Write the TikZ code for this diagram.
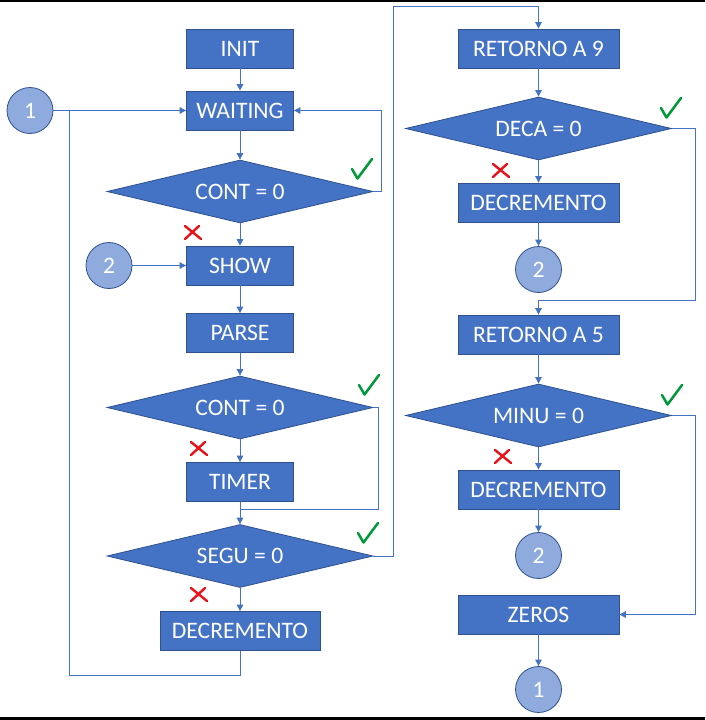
\documentclass[tikz,border=0pt]{standalone}
\usepackage{fontspec}
\setmainfont{Carlito}
\usetikzlibrary{shapes.geometric,arrows.meta}
\definecolor{boxblue}{HTML}{4472C4}
\definecolor{boxedge}{HTML}{2F528F}
\definecolor{circfill}{HTML}{8FAADC}
\definecolor{chkgreen}{HTML}{00993A}
\definecolor{crossred}{HTML}{E8121B}
\tikzset{
  stepbox/.style={draw=boxedge, fill=boxblue, line width=0.8pt, text=white,
    minimum width=107pt, minimum height=39pt, inner sep=0pt,
    font=\fontsize{23.6}{27}\selectfont},
  widebox/.style={stepbox, minimum width=161pt},
  decision/.style={diamond, draw=boxedge, fill=boxblue, line width=0.8pt, text=white,
    minimum width=266pt, minimum height=63pt, inner sep=0pt, aspect=4.22,
    font=\fontsize{23.6}{27}\selectfont},
  connector/.style={circle, draw=boxedge, fill=circfill, line width=0.8pt, text=white,
    minimum size=46pt, inner sep=0pt, font=\fontsize{23.6}{27}\selectfont},
  flow/.style={draw=boxblue, line width=0.9pt, -{Triangle[length=6.5pt,width=6.5pt]}},
  plainflow/.style={draw=boxblue, line width=0.9pt},
  chk/.style={draw=chkgreen, line width=2.5pt, line cap=round, line join=round},
  crs/.style={draw=crossred, line width=2.4pt, line cap=round}
}
\begin{document}
\begin{tikzpicture}[x=1pt,y=-1pt]
\useasboundingbox (0,0) rectangle (705,720);
\fill[white] (0,0) rectangle (705,720);
\fill[black] (0,0) rectangle (705,1.6);
\fill[black] (0,717) rectangle (705,720);

% left column
\node[stepbox] (init)  at (240,48.5)  {INIT};
\node[stepbox] (wait)  at (240,110.5) {WAITING};
\node[connector] (c1)  at (30,110.5)  {1};
\node[decision] (d1)   at (240,191.5) {CONT = 0};
\node[stepbox] (show)  at (240,265.5) {SHOW};
\node[connector] (c2)  at (109,265.5) {2};
\node[stepbox] (parse) at (240,333)   {PARSE};
\node[decision] (d2)   at (240,407.5) {CONT = 0};
\node[stepbox] (timer) at (240,482)   {TIMER};
\node[decision] (d3)   at (240,556)   {SEGU = 0};
\node[stepbox, minimum width=160pt] (dec1) at (240,631) {DECREMENTO};

% right column
\node[widebox] (ret9)  at (538.5,48.5)  {RETORNO A 9};
\node[decision] (d4)   at (538.5,128.5) {DECA = 0};
\node[widebox] (dec2)  at (538.5,202.5) {DECREMENTO};
\node[connector] (c3)  at (538.5,269.5) {2};
\node[widebox] (ret5)  at (538.5,334.5) {RETORNO A 5};
\node[decision] (d5)   at (538.5,415.5) {MINU = 0};
\node[widebox] (dec3)  at (538.5,489.5) {DECREMENTO};
\node[connector] (c4)  at (538.5,555.5) {2};
\node[widebox] (zeros) at (538.5,614.5) {ZEROS};
\node[connector] (c5)  at (538.5,689.5) {1};

% corner coordinates
\coordinate (l1a) at (381,191.5);
\coordinate (l1b) at (381,110.5);
\coordinate (l2a) at (378,407.5);
\coordinate (l2b) at (378,509);
\coordinate (l2c) at (240,509);
\coordinate (l3a) at (393,556);
\coordinate (l3b) at (393,6);
\coordinate (l3c) at (538.5,6);
\coordinate (l4a) at (695,128.5);
\coordinate (l4b) at (695,300);
\coordinate (l4c) at (538.5,300);
\coordinate (l5a) at (695,415.5);
\coordinate (l5b) at (695,614.5);
\coordinate (l6a) at (240,675);
\coordinate (l6b) at (69,675);
\coordinate (l6c) at (69,110.5);

% connectors left
\draw[flow] (init) -- (wait);
\draw[flow] (c1) -- (wait);
\draw[flow] (wait) -- (d1);
\draw[flow] (d1.east) -- (l1a) -- (l1b) -- (wait.east);
\draw[flow] (d1) -- (show);
\draw[flow] (c2) -- (show);
\draw[flow] (show) -- (parse);
\draw[flow] (parse) -- (d2);
\draw[flow] (d2) -- (timer);
\draw[plainflow] (d2.east) -- (l2a) -- (l2b) -- (l2c);
\draw[flow] (timer) -- (d3);
\draw[flow] (d3) -- (dec1);
\draw[plainflow] (dec1.south) -- (l6a) -- (l6b) -- (l6c);
\draw[flow] (d3.east) -- (l3a) -- (l3b) -- (l3c) -- (ret9.north);

% connectors right
\draw[flow] (ret9) -- (d4);
\draw[flow] (d4) -- (dec2);
\draw[flow] (dec2) -- (c3);
\draw[flow] (d4.east) -- (l4a) -- (l4b) -- (l4c) -- (ret5.north);
\draw[flow] (ret5) -- (d5);
\draw[flow] (d5) -- (dec3);
\draw[flow] (dec3) -- (c4);
\draw[flow] (d5.east) -- (l5a) -- (l5b) -- (zeros.east);
\draw[flow] (zeros) -- (c5);

% check marks
\foreach \x/\y in {351/158, 358/374, 357/522, 660/97, 661/384}{
  \draw[chk] (\x+1,\y+11) -- (\x+6.5,\y+20.5) -- (\x+21,\y+1);
}
% crosses
\foreach \x/\y in {184/225, 190/441, 190/587, 492/163, 494/449}{
  \draw[crs] (\x+1,\y+1) -- (\x+17,\y+14);
  \draw[crs] (\x+1,\y+14) -- (\x+15,\y+1);
}
\end{tikzpicture}
\end{document}
